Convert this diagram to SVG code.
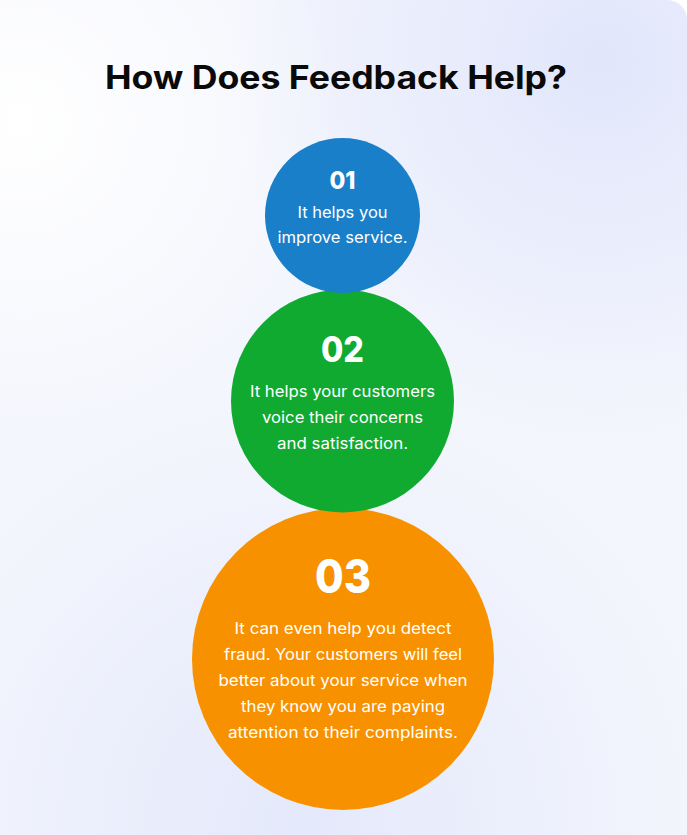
<svg xmlns="http://www.w3.org/2000/svg" width="687" height="835" viewBox="0 0 687 835">
<defs>
<radialGradient id="gTR" cx="600" cy="60" r="380" gradientUnits="userSpaceOnUse">
<stop offset="0" stop-color="#e1e6fb"/>
<stop offset="1" stop-color="#e1e6fb" stop-opacity="0"/>
</radialGradient>
<radialGradient id="gB" cx="300" cy="820" r="420" gradientUnits="userSpaceOnUse">
<stop offset="0" stop-color="#e4e9fb"/>
<stop offset="1" stop-color="#e4e9fb" stop-opacity="0"/>
</radialGradient>
<radialGradient id="gL" cx="20" cy="120" r="320" gradientUnits="userSpaceOnUse">
<stop offset="0" stop-color="#ffffff"/>
<stop offset="1" stop-color="#ffffff" stop-opacity="0"/>
</radialGradient>
<style>
.title{font-family:Inter,"Open Sans",sans-serif;font-weight:700;font-size:32px;fill:#0a0a0a;text-anchor:middle}
.num{font-family:Inter,"Open Sans",sans-serif;font-weight:800;fill:#ffffff;text-anchor:middle}
.body{font-family:Inter,"Open Sans",sans-serif;font-weight:400;font-size:16px;fill:#ffffff;text-anchor:middle}
</style>
</defs>
<rect width="687" height="835" fill="#ffffff"/>
<g id="card">
<path d="M0 0 H667 A20 20 0 0 1 687 20 V835 H0 Z" fill="#f4f6fd"/>
<path d="M0 0 H667 A20 20 0 0 1 687 20 V835 H0 Z" fill="url(#gTR)"/>
<path d="M0 0 H667 A20 20 0 0 1 687 20 V835 H0 Z" fill="url(#gB)"/>
<path d="M0 0 H667 A20 20 0 0 1 687 20 V835 H0 Z" fill="url(#gL)"/>
</g>
<text class="title" x="336" y="89" textLength="462" lengthAdjust="spacingAndGlyphs">How Does Feedback Help?</text>
<g id="connectors"/>
<g id="node3">
<circle cx="343" cy="659" r="151" fill="#f79100"/>
<text class="num" x="343" y="593" font-size="46" textLength="56" lengthAdjust="spacingAndGlyphs">03</text>
<text class="body" x="343" y="634" textLength="217" lengthAdjust="spacingAndGlyphs">It can even help you detect</text>
<text class="body" x="343" y="660" textLength="238" lengthAdjust="spacingAndGlyphs">fraud. Your customers will feel</text>
<text class="body" x="343" y="686" textLength="249" lengthAdjust="spacingAndGlyphs">better about your service when</text>
<text class="body" x="343" y="712" textLength="204" lengthAdjust="spacingAndGlyphs">they know you are paying</text>
<text class="body" x="343" y="738" textLength="230" lengthAdjust="spacingAndGlyphs">attention to their complaints.</text>
</g>
<g id="node2">
<circle cx="342.5" cy="401" r="111.5" fill="#0faa2f"/>
<text class="num" x="342.5" y="362" font-size="35" textLength="43" lengthAdjust="spacingAndGlyphs">02</text>
<text class="body" x="342.5" y="397" textLength="185" lengthAdjust="spacingAndGlyphs">It helps your customers</text>
<text class="body" x="342.5" y="423" textLength="161" lengthAdjust="spacingAndGlyphs">voice their concerns</text>
<text class="body" x="342.5" y="449" textLength="131" lengthAdjust="spacingAndGlyphs">and satisfaction.</text>
</g>
<g id="node1">
<circle cx="342.5" cy="215.5" r="77.5" fill="#1a7fc9"/>
<text class="num" x="342.5" y="189" font-size="25" textLength="26" lengthAdjust="spacingAndGlyphs">01</text>
<text class="body" x="342.5" y="218" textLength="90" lengthAdjust="spacingAndGlyphs">It helps you</text>
<text class="body" x="342.5" y="243" textLength="130" lengthAdjust="spacingAndGlyphs">improve service.</text>
</g>
</svg>
